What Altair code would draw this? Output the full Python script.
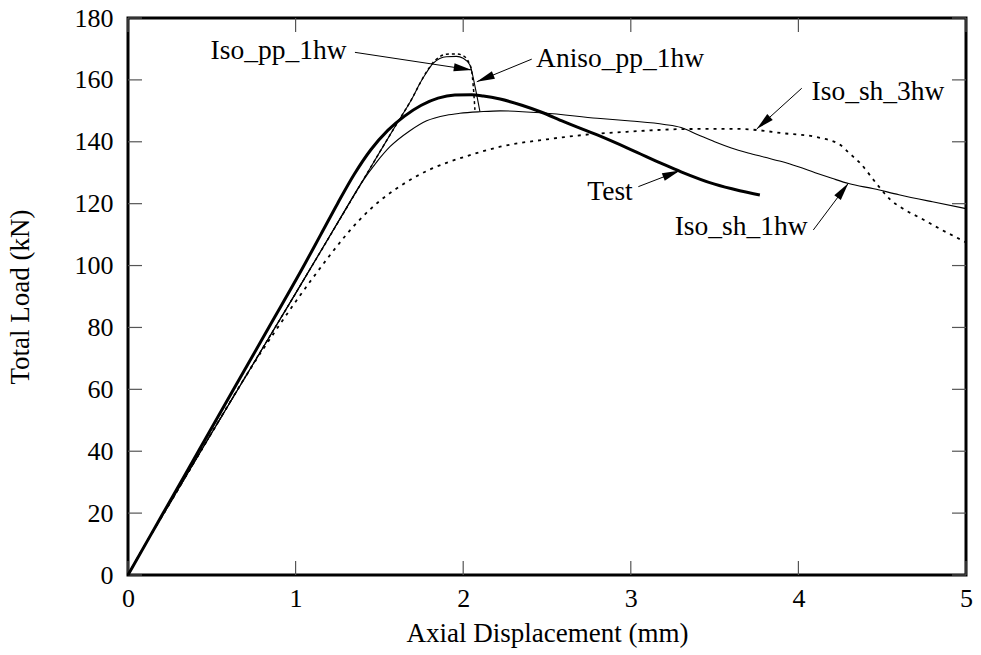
import math
import altair as alt
import pandas as pd

# ---------------- data ----------------
test_x = [0, 0.13, 0.21, 0.42, 0.63, 0.84, 1.05, 1.15, 1.25, 1.35, 1.45, 1.55, 1.65, 1.75, 1.85,
          1.95, 2.05, 2.12, 2.22, 2.35, 2.46, 2.6, 2.8, 3.0, 3.2, 3.3, 3.5, 3.65, 3.77]
test_y = [0, 12.4, 20, 40, 60, 80, 100, 110, 120, 129.5, 137.5, 143.7, 148.3, 151.8, 154.1,
          155.1, 155.2, 154.8, 153.8, 151.8, 149.7, 146.5, 142.2, 137.5, 132.6, 130.3, 126.3,
          124.2, 122.8]

sh1_x = [0, 0.13, 0.22, 0.5, 1.0, 1.146, 1.3, 1.394, 1.48, 1.563, 1.68, 1.782, 1.9, 1.98, 2.1,
         2.22, 2.48, 2.8, 3.0, 3.2, 3.3, 3.4, 3.5, 3.6, 3.7, 3.8, 3.9, 4.0, 4.1, 4.2, 4.3, 4.45,
         4.6, 4.8, 5.0]
sh1_y = [0, 12.4, 20.5, 46, 91, 104.3, 118.4, 126.8, 133.2, 138.4, 143.5, 146.8, 148.6, 149.2,
         149.7, 150, 149.3, 147.6, 146.7, 145.6, 144.6, 142.3, 140.0, 138.0, 136.4, 135.0, 133.6,
         131.9, 130.0, 128.2, 126.5, 124.8, 122.9, 120.6, 118.4]

sh3_x = [0, 0.13, 0.22, 0.5, 0.7, 0.8, 0.9, 1.0, 1.1, 1.2, 1.3, 1.4, 1.5, 1.6, 1.7, 1.8, 1.9,
         2.0, 2.22, 2.5, 2.757, 3.0, 3.313, 3.6, 3.751, 3.9, 4.1, 4.25, 4.3, 4.37, 4.47, 4.55,
         4.62, 4.73, 4.85, 5.0]
sh3_y = [0, 12.4, 20.5, 46, 64, 72.5, 80.5, 88.3, 95.8, 103, 109.8, 115.8, 120.8, 124.8, 128.2,
         131, 133.2, 135, 138.4, 140.8, 142.4, 143.3, 144.1, 144.2, 143.8, 142.8, 141.6, 139,
         136.5, 133, 126.2, 121.2, 118.5, 115.3, 111.7, 107.5]

isopp_x = [0, 0.13, 0.22, 0.5, 1.0, 1.394, 1.5, 1.6, 1.7, 1.742, 1.78, 1.82, 1.86, 1.9, 1.96,
           2.0, 2.03, 2.05, 2.06, 2.07]
isopp_y = [0, 12.4, 20.5, 46, 91, 126.8, 136.5, 145.5, 154.5, 158.9, 162.5, 165.6, 167.5, 168.3,
           168.4, 167.8, 166, 163, 158, 150.3]

anipp_x = [0, 0.13, 0.22, 0.5, 1.0, 1.394, 1.5, 1.6, 1.7, 1.742, 1.78, 1.82, 1.86, 1.9, 1.96,
           2.0, 2.04, 2.07, 2.1]
anipp_y = [0, 12.4, 20.5, 46, 91, 126.8, 136.5, 145.5, 154.5, 158.9, 162.3, 165.3, 166.9, 167.5,
           167.6, 167, 164.8, 158, 149.7]

x_ticks = [0, 1, 2, 3, 4, 5]
y_ticks = [0, 20, 40, 60, 80, 100, 120, 140, 160, 180]

ann_label = ["Iso_pp_1hw", "Aniso_pp_1hw", "Iso_sh_3hw", "Test", "Iso_sh_1hw"]
ann_tx = [0.898, 2.936, 4.475, 2.876, 3.658]
ann_ty = [166.8, 164.2, 153.5, 121.2, 109.9]
arr_x0 = [1.354, 2.409, 4.020, 3.045, 4.089]
arr_y0 = [168.9, 166.7, 157.3, 125.5, 111.5]
arr_x1 = [2.051, 2.081, 3.751, 3.294, 4.298]
arr_y1 = [163.2, 159.4, 144.1, 130.7, 126.6]

# ---------------- layout ----------------
W, H = 838, 557
XMAX, YMAX = 5, 180
FONT = "Liberation Serif"
FS = 26
FS_TITLE = 27
FS_ANN = 27.5

xs = alt.Scale(domain=[0, XMAX], nice=False, zero=True)
ys = alt.Scale(domain=[0, YMAX], nice=False, zero=True)
XAX = alt.Axis(values=x_ticks, format="d", ticks=False, domain=False, grid=False,
               labelFlush=False, labelPadding=10, titlePadding=9)
YAX = alt.Axis(values=y_ticks, format="d", ticks=False, domain=False, grid=False,
               labelFlush=False, labelPadding=15, titlePadding=40)
XT = "Axial Displacement (mm)"
YT = "Total Load (kN)"


def X(f):
    return alt.X(f, type="quantitative", scale=xs, axis=XAX, title=XT)


def Y(f):
    return alt.Y(f, type="quantitative", scale=ys, axis=YAX, title=YT)


def series_df(xv, yv):
    return pd.DataFrame({"x": xv, "y": yv, "o": list(range(len(xv)))})


def line(xv, yv, **kw):
    return alt.Chart(series_df(xv, yv)).mark_line(color="black", interpolate="monotone", **kw).encode(
        x=X("x"), y=Y("y"), order="o:Q")


xt = pd.DataFrame({"x": x_ticks})
yt = pd.DataFrame({"y": y_ticks})
TL = 14
tick_style = dict(color="#555555", strokeWidth=1.2)
ticks = alt.layer(
    alt.Chart(xt).mark_rule(**tick_style).encode(x=X("x"), y=alt.value(H), y2=alt.value(H - TL)),
    alt.Chart(xt).mark_rule(**tick_style).encode(x=X("x"), y=alt.value(0), y2=alt.value(TL)),
    alt.Chart(yt).mark_rule(**tick_style).encode(y=Y("y"), x=alt.value(0), x2=alt.value(TL)),
    alt.Chart(yt).mark_rule(**tick_style).encode(y=Y("y"), x=alt.value(W), x2=alt.value(W - TL)),
)

lines = alt.layer(
    line(sh3_x, sh3_y, strokeWidth=1.8, strokeDash=[3, 5]),
    line(sh1_x, sh1_y, strokeWidth=1.1),
    line(anipp_x, anipp_y, strokeWidth=1.1),
    line(isopp_x, isopp_y, strokeWidth=1.5, strokeDash=[3, 3]),
    line(test_x, test_y, strokeWidth=3),
)

# annotations
angles = []
for a, b, c, d in zip(arr_x0, arr_y0, arr_x1, arr_y1):
    dx = (c - a) * W / XMAX
    dy = -(d - b) * H / YMAX
    angles.append(math.degrees(math.atan2(dy, dx)) % 360)

ann = pd.DataFrame({"label": ann_label, "tx": ann_tx, "ty": ann_ty,
                    "x0": arr_x0, "y0": arr_y0, "x1": arr_x1, "y1": arr_y1, "ang": angles})

texts = alt.Chart(ann).mark_text(font=FONT, fontSize=FS_ANN, align="center", baseline="alphabetic",
                                 color="black").encode(x=X("tx"), y=Y("ty"), text="label:N")

arrows = alt.Chart(ann).mark_rule(color="black", strokeWidth=1).encode(
    x=X("x0"), y=Y("y0"), x2=alt.X2("x1:Q"), y2=alt.Y2("y1:Q"))

heads = alt.Chart(ann).mark_point(shape="M0,0 L-2,-0.45 L-2,0.45 Z", filled=True, color="black",
                                  size=324, opacity=1, strokeWidth=0).encode(
    x=X("x1"), y=Y("y1"), angle=alt.Angle("ang:Q", scale=None))

chart = alt.layer(ticks, lines, arrows, heads, texts).properties(
    width=W, height=H,
    autosize=alt.AutoSizeParams(type="none"),
    padding={"left": 128, "top": 18, "right": 15, "bottom": 80},
    background="white",
).configure_view(stroke="black", strokeWidth=3).configure_axis(
    labelFont=FONT, titleFont=FONT, labelFontSize=FS, titleFontSize=FS_TITLE,
    titleFontWeight="normal", labelColor="black", titleColor="black",
)

chart.save("out.html", embed_options={"renderer": "svg", "actions": False})
